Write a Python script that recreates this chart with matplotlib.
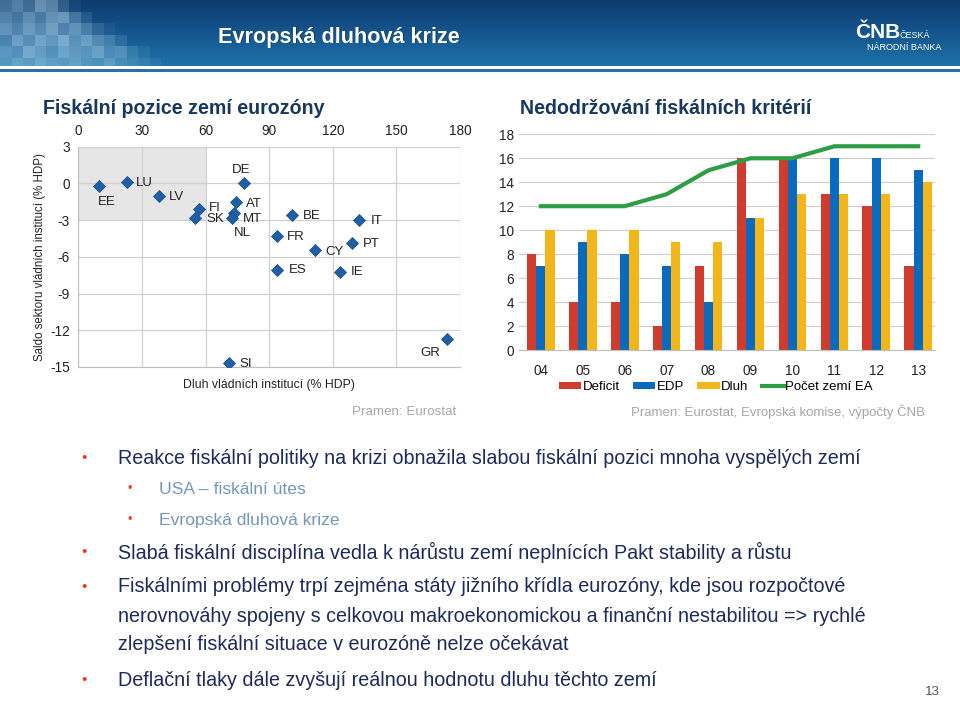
import matplotlib
matplotlib.use("Agg")
import matplotlib.pyplot as plt
import numpy as np
from matplotlib.patches import Rectangle
from matplotlib.lines import Line2D
from matplotlib.colors import LinearSegmentedColormap
from matplotlib import transforms

W, H = 960, 702
SANS = ["Liberation Sans", "DejaVu Sans"]
plt.rcParams["font.family"] = SANS
plt.rcParams["axes.unicode_minus"] = False

NAVY = "#17375E"
TEXT = "#1F2A5C"
SUB = "#7397BA"
BULLET = "#E2411C"
GREY = "#A6A6A6"
GRID = "#D0D0D0"

# ---- left chart data: debt (% GDP) vs. balance (% GDP)
countries = ["EE", "LU", "LV", "FI", "SK", "DE", "AT", "NL", "MT", "BE",
             "IT", "FR", "CY", "PT", "ES", "IE", "GR", "SI"]
debt = [9.8, 23.0, 38.0, 57.0, 55.0, 78.0, 74.5, 73.5, 72.6, 101.0,
        132.6, 93.5, 111.5, 129.0, 93.9, 123.3, 174.0, 71.0]
balance = [-0.2, 0.1, -1.0, -2.1, -2.8, 0.0, -1.5, -2.4, -2.8, -2.6,
           -3.0, -4.3, -5.4, -4.9, -7.1, -7.2, -12.7, -14.7]

# ---- right chart data
years = ["04", "05", "06", "07", "08", "09", "10", "11", "12", "13"]
deficit = [8, 4, 4, 2, 7, 16, 16, 13, 12, 7]
edp = [7, 9, 8, 7, 4, 11, 16, 16, 16, 15]
dluh = [10, 10, 10, 9, 9, 11, 13, 13, 13, 14]
pocet = [12, 12, 12, 13, 15, 16, 16, 17, 17, 17]

fig = plt.figure(figsize=(W / 100, H / 100), dpi=100)
fig.patch.set_facecolor("white")


def fx(px):
    return px / W


def fy(py):
    return 1 - py / H


# ---- header band
hdr = fig.add_axes([0, fy(66), 1, 66 / H])
hdr.axis("off")
grad = np.linspace(0, 1, 64).reshape(-1, 1)
cm = LinearSegmentedColormap.from_list("hdr", ["#0D3B6E", "#15568E", "#1C72A8"])
hdr.imshow(grad, aspect="auto", cmap=cm, extent=[0, W, 66, 0])
hdr.set_xlim(0, W)
hdr.set_ylim(66, 0)
mosaic = [
    [.30, .40, .28, .50, .42, .20, .05, 0, 0, 0, 0, 0, 0, 0, 0],
    [.38, .30, .45, .33, .48, .52, .30, .12, 0, 0, 0, 0, 0, 0, 0],
    [.45, .35, .50, .40, .55, .35, .45, .30, .15, .05, 0, 0, 0, 0, 0],
    [.30, .50, .38, .55, .45, .60, .40, .50, .35, .25, .12, 0, 0, 0, 0],
    [.40, .35, .55, .45, .35, .50, .42, .38, .48, .30, .35, .18, .08, 0, 0],
    [.35, .45, .40, .50, .42, .38, .45, .35, .30, .40, .28, .22, .15, .08, 0],
]
cell = 11.5
for r, row in enumerate(mosaic):
    for c, a in enumerate(row):
        if a > 0:
            hdr.add_patch(Rectangle((c * cell, r * cell), cell, cell,
                                    facecolor="#BFE0F2", alpha=a, lw=0))
shadow = hdr.transData + transforms.ScaledTranslation(1 / 100, -1 / 100, fig.dpi_scale_trans)
hdr.text(218, 37, "Evropská dluhová krize", color="#202020", fontsize=15.6,
         fontweight="bold", va="center", ha="left", alpha=0.5, transform=shadow)
hdr.text(218, 37, "Evropská dluhová krize", color="white", fontsize=15.6,
         fontweight="bold", va="center", ha="left")
hdr.text(855, 33, "ČNB", color="white", fontsize=15, fontweight="bold",
         va="center", ha="left")
hdr.text(900, 35, "ČESKÁ", color="white", fontsize=6.5, va="center", ha="left")
hdr.text(867, 47, "NÁRODNÍ BANKA", color="white", fontsize=6.5, va="center", ha="left")

# separator lines
fig.add_artist(Line2D([0, 1], [fy(67.5), fy(67.5)], color="white", lw=1.2))
fig.add_artist(Line2D([0, 1], [fy(70), fy(70)], color="#2B6EAB", lw=2.2))

# ---- titles
fig.text(fx(43), fy(108), "Fiskální pozice zemí eurozóny", color=NAVY,
         fontsize=14.1, fontweight="bold", va="center")
fig.text(fx(520), fy(108), "Nedodržování fiskálních kritérií", color=NAVY,
         fontsize=14.1, fontweight="bold", va="center")

# ---- scatter
ax1 = fig.add_axes([fx(78.3), fy(367), fx(460 - 78.3), (367 - 146.7) / H])
ax1.add_patch(Rectangle((0, -3), 60, 6, facecolor="#E6E6E6", lw=0, zorder=0))
ax1.scatter(debt, balance, marker="D", s=38, color="#1F5FA8",
            edgecolor="#174A85", linewidth=0.5, zorder=3)
# label offset in pixels: (dx right, dy down, alignment)
offsets = {
    "EE": (8, 16, "center"), "LU": (9, 1, "left"), "LV": (10, 1, "left"),
    "FI": (10, -1, "left"), "SK": (11, 1, "left"), "DE": (-3, -13, "center"),
    "AT": (10, 2, "left"), "NL": (8, 20, "center"), "MT": (11, 1, "left"),
    "BE": (10, 1, "left"), "IT": (11, 1, "left"), "FR": (10, 1, "left"),
    "CY": (11, 2, "left"), "PT": (11, 1, "left"), "ES": (11, 0, "left"),
    "IE": (11, 0, "left"), "GR": (-17, 14, "center"), "SI": (11, 1, "left"),
}
for name, x, y in zip(countries, debt, balance):
    dx, dy, ha = offsets[name]
    ax1.annotate(name, (x, y), xytext=(dx, -dy), textcoords="offset pixels",
                 ha=ha, va="center", fontsize=9.5, color="#222222")
ax1.set_xlim(0, 180)
ax1.set_ylim(-15, 3)
ax1.set_xticks(range(0, 181, 30))
ax1.set_yticks(range(-15, 4, 3))
ax1.xaxis.tick_top()
ax1.tick_params(length=0, labelsize=9.8, colors="#222222", pad=6)
ax1.grid(True, color=GRID, lw=0.9)
ax1.set_axisbelow(True)
for s in ("top", "right"):
    ax1.spines[s].set_visible(False)
for s in ("left", "bottom"):
    ax1.spines[s].set_color("#BFBFBF")
ax1.set_xlabel("Dluh vládních institucí (% HDP)", fontsize=8.8, color="#222222",
               labelpad=9)
ax1.set_ylabel("Saldo sektoru vládních institucí (% HDP)", fontsize=8.3,
               color="#222222", labelpad=3)
fig.text(fx(456), fy(412), "Pramen: Eurostat", color=GREY, fontsize=9.6,
         ha="right", va="center")

# ---- bar chart
ax2 = fig.add_axes([fx(519), fy(350), fx(935 - 519), (350 - 134.3) / H])
idx = np.arange(len(years))
bw = 0.22
b1 = ax2.bar(idx - bw, deficit, bw, color="#D13B2C", label="Deficit", zorder=2)
b2 = ax2.bar(idx, edp, bw, color="#0A6BBE", label="EDP", zorder=2)
b3 = ax2.bar(idx + bw, dluh, bw, color="#F2B61A", label="Dluh", zorder=2)
l1, = ax2.plot(idx, pocet, color="#2E9E44", lw=3, label="Počet zemí EA", zorder=3)
ax2.set_xlim(-0.52, 9.4)
ax2.set_ylim(0, 18)
ax2.set_yticks(range(0, 19, 2))
ax2.set_xticks(idx)
ax2.set_xticklabels(years)
ax2.tick_params(length=0, labelsize=9.8, colors="#222222")
ax2.tick_params(axis="x", pad=10)
ax2.grid(True, axis="y", color=GRID, lw=0.9, zorder=0)
for s in ("top", "right", "left"):
    ax2.spines[s].set_visible(False)
ax2.spines["bottom"].set_color("#BFBFBF")
fig.legend([b1, b2, b3, l1], ["Deficit", "EDP", "Dluh", "Počet zemí EA"],
           loc="center", bbox_to_anchor=(fx(716), fy(387)), ncol=4,
           frameon=False, fontsize=9.5, handlelength=1.7, handleheight=0.45,
           handletextpad=0.1, columnspacing=1.0, borderpad=0)
fig.text(fx(925), fy(412), "Pramen: Eurostat, Evropská komise, výpočty ČNB",
         color=GREY, fontsize=9.5, ha="right", va="center")

# ---- bullets
bullets = [
    (0, 458, "Reakce fiskální politiky na krizi obnažila slabou fiskální pozici mnoha vyspělých zemí"),
    (1, 489, "USA – fiskální útes"),
    (1, 520, "Evropská dluhová krize"),
    (0, 552, "Slabá fiskální disciplína vedla k nárůstu zemí neplnících Pakt stability a růstu"),
    (0, 587, "Fiskálními problémy trpí zejména státy jižního křídla eurozóny, kde jsou rozpočtové"),
    (None, 616, "nerovnováhy spojeny s celkovou makroekonomickou a finanční nestabilitou => rychlé"),
    (None, 645, "zlepšení fiskální situace v eurozóně nelze očekávat"),
    (0, 680, "Deflační tlaky dále zvyšují reálnou hodnotu dluhu těchto zemí"),
]
for lvl, y, txt in bullets:
    if lvl == 1:
        fig.text(fx(130), fy(y), "•", color=BULLET, fontsize=9, va="center", ha="center")
        fig.text(fx(159), fy(y), txt, color=SUB, fontsize=12.6, va="center")
    else:
        if lvl == 0:
            fig.text(fx(84), fy(y), "•", color=BULLET, fontsize=11, va="center", ha="center")
        fig.text(fx(118), fy(y), txt, color=TEXT, fontsize=14.2, va="center")
fig.text(fx(932), fy(692), "13", color="#555555", fontsize=9.5, ha="center", va="center")

fig.savefig("out.png", dpi=100, facecolor="white")
